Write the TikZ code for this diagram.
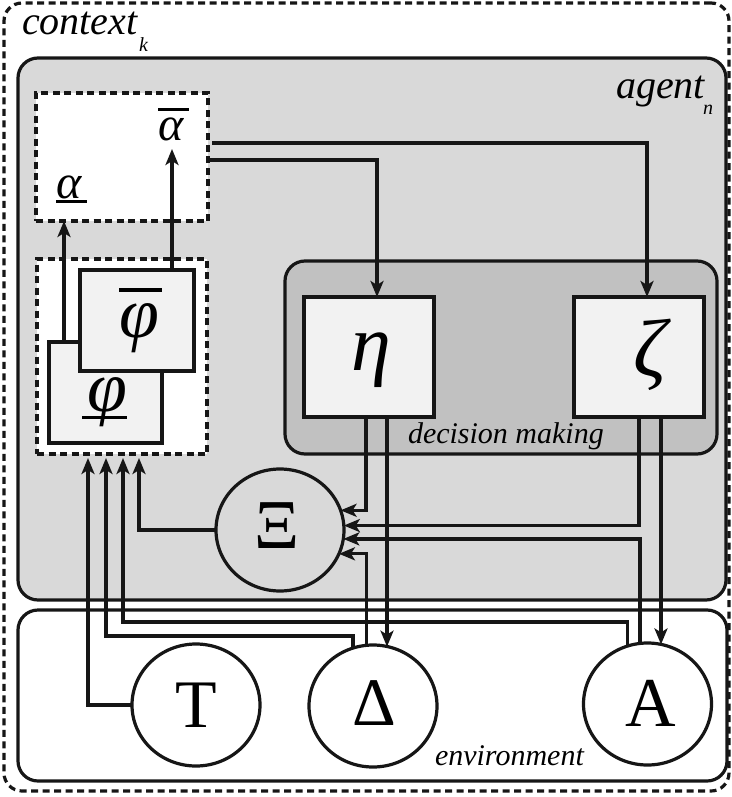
\RequirePackage{fix-cm}
\documentclass[tikz,border=0pt]{standalone}
\usepackage{fontspec}
\setmainfont{Liberation Serif}
\usetikzlibrary{arrows.meta,calc,shapes.geometric}

\definecolor{agentgray}{RGB}{217,217,217}
\definecolor{dmgray}{RGB}{193,193,193}
\definecolor{innergray}{RGB}{242,242,242}
\definecolor{ink}{RGB}{22,22,22}

% bar drawn over or under a glyph: raise, kern, width, thickness
\newcommand\glyphbar[4]{\rlap{\kern#2\rule[#1]{#3}{#4}}}

\begin{document}
\begin{tikzpicture}[x=1pt,y=-1pt,
  every node/.style={inner sep=0pt, outer sep=0pt},
  wire/.style={line width=3.2pt, draw=ink},
  arr/.style={wire, -{Stealth[length=16pt,width=13pt,inset=4pt]}},
  panel/.style={rectangle, draw=ink, line width=3.2pt, rounded corners=20pt},
  dashbox/.style={rectangle, draw=ink, line width=3.2pt, dash pattern=on 7pt off 4.5pt, fill=white},
  innerbox/.style={rectangle, draw=ink, line width=3.2pt, fill=innergray},
  disc/.style={ellipse, draw=ink, line width=3.2pt, minimum width=128pt, minimum height=122pt},
  lab/.style={anchor=base west, font=\fontsize{30}{30}\selectfont\itshape},
  biglab/.style={anchor=base west, font=\fontsize{40}{40}\selectfont\itshape},
  sublab/.style={anchor=base west, font=\fontsize{20}{20}\selectfont\itshape},
  sym/.style={font=\fontsize{#1}{#1}\selectfont},
  isym/.style={font=\fontsize{#1}{#1}\selectfont\itshape},
]
\useasboundingbox (0,0) rectangle (731,797);

% containers
\node[panel, dash pattern=on 7pt off 4.5pt, rounded corners=18pt,
      minimum width=725pt, minimum height=788pt] (context) at (366.5,397) {};
\node[panel, fill=agentgray, minimum width=708pt, minimum height=542pt] (agent) at (372,329) {};
\node[panel, fill=white, minimum width=709pt, minimum height=171pt] (env) at (372.5,695.5) {};
\node[panel, fill=dmgray, minimum width=432pt, minimum height=193pt] (dm) at (501,357.5) {};

% labels of the containers
\node[biglab] (ctxlabel) at (22,35) {context};
\node[sublab] (ctxsub) at (139,52) {k};
\node[biglab] (agentlabel) at (616,99) {agent};
\node[sublab] (agentsub) at (703,114) {n};
\node[lab] (dmlabel) at (408,443) {decision making};
\node[lab] (envlabel) at (435,765) {environment};

% aspiration box
\node[dashbox, minimum width=172pt, minimum height=128pt] (alphabox) at (122,157) {};
\node[isym=48, anchor=base] (alo) at (69,198)
  {\glyphbar{-0.1em}{0em}{0.64em}{0.06em}α};
\node[isym=48, anchor=base] (ahi) at (171,140)
  {\glyphbar{0.61em}{0em}{0.64em}{0.06em}α};

% evaluation boxes
\node[dashbox, minimum width=170pt, minimum height=195pt] (phibox) at (122,356.5) {};
\node[innerbox, minimum width=113pt, minimum height=101pt] (phil) at (105.5,392.5) {};
\node[isym=72, anchor=base] (philtext) at (107,411)
  {\glyphbar{-0.11em}{-0.07em}{0.62em}{0.045em}φ};
\node[innerbox, minimum width=114pt, minimum height=101pt] (phiu) at (137,320.5) {};
\node[isym=72, anchor=base] (phiutext) at (139,337)
  {\glyphbar{0.63em}{0em}{0.6em}{0.045em}φ};

% decision making
\node[innerbox, minimum width=130pt, minimum height=120pt] (eta) at (369,357) {};
\node[isym=80] (etatext) at (371,360) {η};
\node[innerbox, minimum width=130pt, minimum height=120pt] (zeta) at (639,357) {};
\node[isym=82] (zetatext) at (650,355) {ζ};

% state circles
\node[disc] (xi) at (280,530) {};
\node[sym=70] (xitext) at (277,526) {Ξ};
\node[disc, fill=white] (T) at (196,705) {};
\node[sym=68] (Ttext) at (196,705.5) {T};
\node[disc, fill=white] (delta) at (373,706) {};
\node[sym=68] (deltatext) at (374,703) {Δ};
\node[disc, fill=white] (A) at (647.5,704) {};
\node[sym=70] (Atext) at (651,703.5) {A};

% ports
\coordinate (eta-l) at ($(eta.south west)+(62,0)$);
\coordinate (eta-r) at ($(eta.south west)+(83,0)$);
\coordinate (zeta-l) at ($(zeta.south west)+(65,0)$);
\coordinate (zeta-r) at ($(zeta.south west)+(87,0)$);
\coordinate (in1) at ($(phibox.south west)+(51,4)$);
\coordinate (in2) at ($(phibox.south west)+(69,4)$);
\coordinate (in3) at ($(phibox.south west)+(86,4)$);
\coordinate (in4) at ($(phibox.south west)+(102,4)$);

% aspirations feed the decision rules
\draw[arr] ($(alphabox.north east)+(0,67)$) -| ($(eta.north)+(8,0)$);
\draw[arr] ($(alphabox.north east)+(4,50)$) -| ($(zeta.north)+(8,0)$);

% evaluations update the aspirations
\draw[arr] ($(phil.north west)+(15,0)$) -- ($(alphabox.south west)+(28,0)$);
\draw[arr] ($(phiu.north west)+(92,0)$) -- ($(alphabox.south west)+(136,-72)$);

% decision rules to state and environment
\draw[arr] (eta-l) |- (xi.18.6);
\draw[arr] (eta-r) -- (eta-r |- delta.76.8);
\draw[arr] (zeta-l) |- (xi.4.6);
\draw[arr] (zeta-r) -- (zeta-r |- A.77.2);

% environment feeds the state
\draw[arr] (A.97.1) |- (xi.-8.2);
\draw[arr] (delta.96.6) |- (xi.-22.5);

% everything feeds the evaluations
\draw[arr] (T.west) -| (in1);
\draw[arr] (delta.109.1) |- ($(in2)+(0,178)$) -- (in2);
\draw[arr] (A.109.5) |- ($(in3)+(0,164)$) -- (in3);
\draw[arr] (xi.west) -| (in4);
\end{tikzpicture}
\end{document}
